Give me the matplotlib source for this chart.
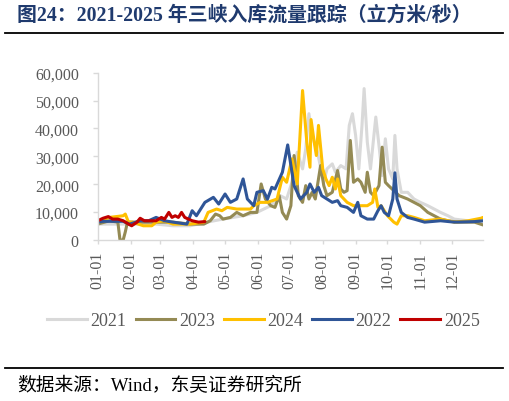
import matplotlib
matplotlib.use("Agg")
import matplotlib.pyplot as plt
from matplotlib.lines import Line2D

plt.rcParams['font.family'] = ['Liberation Serif', 'Noto Sans CJK SC', 'DejaVu Sans']

# ---------------- data (day of year, inflow m3/s) ----------------
days_2021 = [0, 30, 55, 71, 87, 103, 118, 137, 150, 163, 172, 178, 183, 188, 193, 196, 199, 202, 207,
             213, 216, 221, 224, 229, 234, 237, 240, 243, 246, 249, 251, 254, 257, 262, 265, 268, 271,
             274, 278, 280, 282, 286, 292, 298, 304, 311, 317, 323, 330, 336, 349, 363]
flow_2021 = [5700, 5700, 5700, 5100, 5100, 6400, 7500, 8700, 9900, 12300, 15900, 14700, 20700, 31500,
             25500, 32700, 45300, 37500, 31500, 20700, 25500, 27300, 24300, 26700, 25500, 41100, 45300,
             37500, 25500, 41100, 54300, 35100, 25500, 44100, 33900, 23100, 36300, 25500, 21900, 37500,
             25500, 17100, 17100, 14700, 13500, 12300, 11100, 9900, 8700, 7500, 6900, 6600]

days_2023 = [0, 11, 19, 21, 24, 26, 28, 40, 55, 71, 87, 100, 106, 111, 115, 118, 125, 131, 137, 144,
             150, 154, 158, 163, 167, 171, 174, 178, 182, 185, 187, 189, 193, 196, 199, 202, 205, 210,
             213, 216, 221, 226, 229, 232, 235, 238, 241, 245, 248, 252, 254, 257, 260, 265, 268, 271,
             274, 279, 284, 292, 298, 304, 311, 317, 323, 330, 339, 355, 363]
flow_2023 = [5700, 6900, 6400, 0, 0, 2900, 6400, 6400, 6400, 6400, 5700, 5700, 6900, 9300, 8700, 7500,
             8100, 9900, 8700, 9900, 9900, 20100, 14700, 12300, 11700, 15900, 9900, 7500, 12300, 30300,
             24300, 15900, 13500, 19500, 14700, 17100, 14700, 26700, 19500, 15900, 17100, 24900, 18300,
             17100, 17700, 35700, 20700, 21900, 20700, 17100, 24300, 17100, 15900, 19500, 33300, 20700,
             19500, 17700, 15900, 14700, 13500, 12300, 9900, 8700, 7500, 6900, 6400, 6400, 5400]

days_2024 = [0, 11, 24, 26, 29, 33, 43, 51, 55, 62, 71, 87, 100, 104, 112, 117, 122, 131, 137, 144,
             147, 153, 160, 169, 174, 178, 183, 188, 193, 197, 200, 201, 204, 206, 208, 212, 215, 218,
             221, 224, 226, 229, 235, 241, 248, 254, 259, 261, 264, 267, 273, 279, 282, 286, 292, 298,
             308, 323, 336, 349, 361, 363]
flow_2024 = [6400, 8100, 8700, 9300, 6400, 6400, 5100, 5100, 6400, 6900, 5700, 5700, 6400, 9900,
             11100, 10500, 11700, 11100, 11100, 11100, 12300, 13500, 13500, 14700, 22500, 20700, 29100,
             20100, 53600, 35100, 26100, 43200, 35100, 30300, 41100, 25500, 21900, 19500, 22500, 18300,
             21900, 15900, 13500, 12300, 12300, 12300, 13500, 18300, 11700, 12300, 8700, 6400, 5700,
             8700, 8700, 8100, 6900, 7500, 6400, 6900, 7800, 8100]

days_2022 = [0, 5, 14, 24, 30, 40, 48, 55, 63, 71, 84, 89, 93, 101, 109, 114, 120, 125, 131, 137, 141,
             147, 150, 156, 160, 164, 167, 174, 179, 185, 191, 197, 200, 204, 208, 211, 216, 221, 226,
             229, 235, 241, 245, 248, 254, 260, 264, 267, 270, 274, 278, 280, 282, 286, 292, 298, 308,
             323, 336, 355, 363]
flow_2022 = [6400, 6700, 6700, 6700, 5700, 6900, 6900, 8100, 6900, 6400, 5700, 10500, 8700, 13500,
             15300, 12900, 16500, 13500, 14700, 21900, 14700, 12300, 17100, 17700, 14700, 18900, 18300,
             24300, 34100, 19500, 14700, 17100, 20100, 17100, 18900, 15900, 14700, 13500, 14100, 12300,
             11700, 9900, 13500, 8700, 7500, 7500, 10500, 12300, 9900, 8700, 14700, 24100, 14700, 9900,
             8100, 7500, 6400, 6900, 6400, 6600, 6900]

days_2025 = [0, 5, 10, 14, 19, 24, 29, 32, 37, 40, 44, 51, 55, 60, 63, 67, 70, 73, 76, 79, 82, 89, 95, 101]
flow_2025 = [6900, 7800, 8400, 7500, 7500, 6900, 5700, 5100, 6400, 7800, 6900, 6900, 6900, 8100, 7500,
             9900, 8100, 8700, 8100, 9900, 8100, 6900, 6400, 6600]

series = [
    ("2021", days_2021, flow_2021, "#D9D9D9"),
    ("2023", days_2023, flow_2023, "#948A54"),
    ("2024", days_2024, flow_2024, "#FFC000"),
    ("2022", days_2022, flow_2022, "#2F5597"),
    ("2025", days_2025, flow_2025, "#C00000"),
]

month_days = [0, 31, 59, 90, 120, 151, 181, 212, 243, 273, 304, 334]
month_labels = ["01-01", "02-01", "03-01", "04-01", "05-01", "06-01",
                "07-01", "08-01", "09-01", "10-01", "11-01", "12-01"]
y_ticks = [0, 10000, 20000, 30000, 40000, 50000, 60000]

title = "图24：2021-2025 年三峡入库流量跟踪（立方米/秒）"
source = "数据来源：Wind，东吴证券研究所"

# ---------------- figure ----------------
W, H = 509, 402
fig = plt.figure(figsize=(W / 100, H / 100), dpi=100)
fig.patch.set_facecolor("white")

ax = fig.add_axes([97.7 / W, 1 - 241 / H, (483 - 97.7) / W, (241 - 73.7) / H])

handles = []
for name, d, v, c in series:
    ax.plot(d, v, color=c, lw=2.2, solid_joinstyle="round", solid_capstyle="round")
    handles.append(Line2D([], [], color=c, lw=2.2, label=name))

ax.set_xlim(0, 363)
ax.set_ylim(0, 60000)
ax.set_xticks(month_days)
ax.set_xticklabels(month_labels, rotation=90)
ax.set_yticks(y_ticks)
ax.set_yticklabels([f"{t:,}" for t in y_ticks])

for s in ["top", "right"]:
    ax.spines[s].set_visible(False)
for s in ["left", "bottom"]:
    ax.spines[s].set_color("#D9D9D9")
    ax.spines[s].set_linewidth(1.0)
ax.tick_params(axis="y", direction="out", length=3.6, width=1.0, color="#D9D9D9",
               labelsize=11.5, labelcolor="#595959", pad=10)
ax.tick_params(axis="x", direction="out", length=3.0, width=1.0, color="#D9D9D9",
               labelsize=11.5, labelcolor="#595959", pad=5)

fig.legend(handles=handles, loc="center", bbox_to_anchor=(263.5 / W, 1 - 321.7 / H),
           ncol=5, frameon=False, fontsize=13, handlelength=2.2, handletextpad=0.2,
           columnspacing=0.5, labelcolor="#595959")

# title and rules
fig.text(17 / W, 1 - 16 / H, title, fontsize=14.3, fontweight="bold", color="#1F3A6E",
         ha="left", va="center")
fig.add_artist(Line2D([5 / W, 503 / W], [1 - 34.2 / H, 1 - 34.2 / H], color="black", lw=1.3))
fig.add_artist(Line2D([5 / W, 503 / W], [1 - 369.2 / H, 1 - 369.2 / H], color="black", lw=1.3))
fig.text(17 / W, 1 - 386.5 / H, source, fontsize=13.5, color="black", ha="left", va="center")

fig.savefig("out.png", dpi=100, facecolor="white")
